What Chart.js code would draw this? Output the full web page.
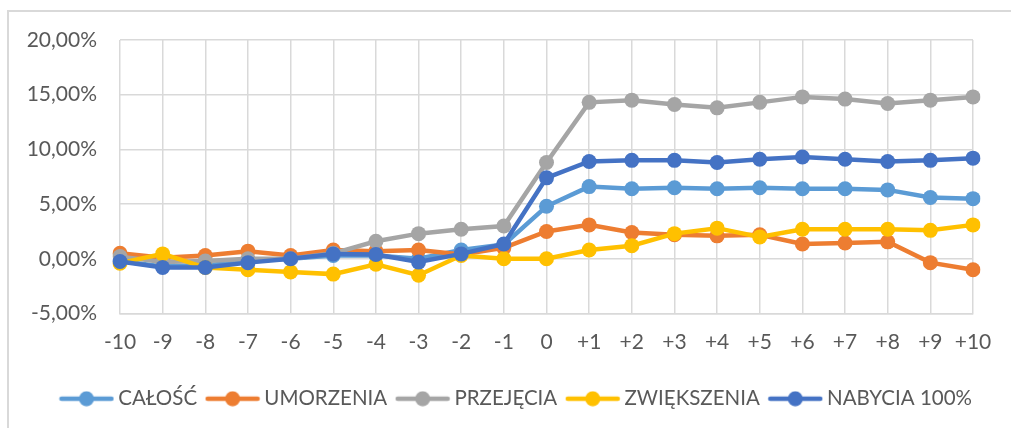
<!DOCTYPE html>
<html>
<head>
<meta charset="utf-8">
<script src="https://cdn.jsdelivr.net/npm/chart.js"></script>
<style>
  body { margin: 0; background: #fff; }
</style>
</head>
<body>
<canvas id="lineChart" width="1011" height="428"></canvas>
<script>
// event window (days)
var categories = ['-10','-9','-8','-7','-6','-5','-4','-3','-2','-1','0','+1','+2','+3','+4','+5','+6','+7','+8','+9','+10'];

// values in %
var calosc      = [-0.2, -0.7, -0.6, -0.2, 0.0, 0.3, 0.3, 0.0, 0.8, 1.3, 4.8, 6.6, 6.4, 6.5, 6.4, 6.5, 6.4, 6.4, 6.3, 5.6, 5.5];
var umorzenia   = [0.5, 0.1, 0.3, 0.7, 0.3, 0.8, 0.7, 0.8, 0.4, 1.0, 2.5, 3.1, 2.4, 2.2, 2.1, 2.2, 1.35, 1.45, 1.55, -0.35, -1.0];
var przejecia   = [0.2, -0.3, -0.2, 0.0, 0.0, 0.5, 1.6, 2.3, 2.7, 3.0, 8.8, 14.3, 14.5, 14.1, 13.8, 14.3, 14.8, 14.6, 14.2, 14.5, 14.8];
var zwiekszenia = [-0.4, 0.45, -0.8, -1.0, -1.2, -1.4, -0.5, -1.5, 0.3, 0.0, 0.0, 0.8, 1.2, 2.3, 2.8, 2.0, 2.7, 2.7, 2.7, 2.6, 3.1];
var nabycia     = [-0.25, -0.8, -0.8, -0.35, 0.0, 0.45, 0.4, -0.3, 0.45, 1.35, 7.4, 8.9, 9.0, 9.0, 8.8, 9.1, 9.3, 9.1, 8.9, 9.0, 9.2];

var yMin = -5, yMax = 20, yStep = 5;

var gridColor = '#d9d9d9';
var textColor = '#595959';
var fontFamily = 'Lato, "Liberation Sans", sans-serif';

// legend marker: line with a dot in the middle
function legendSymbol(color) {
    var c = document.createElement('canvas');
    c.width = 56;
    c.height = 16;
    var g = c.getContext('2d');
    g.strokeStyle = color;
    g.lineWidth = 4.5;
    g.lineCap = 'round';
    g.beginPath();
    g.moveTo(3, 8);
    g.lineTo(53, 8);
    g.stroke();
    g.fillStyle = color;
    g.beginPath();
    g.arc(28, 8, 7.5, 0, Math.PI * 2);
    g.fill();
    return c;
}

function series(label, data, color, order) {
    return {
        label: label,
        data: data,
        borderColor: color,
        backgroundColor: color,
        pointBackgroundColor: color,
        pointBorderColor: color,
        pointBorderWidth: 0,
        pointRadius: 7.5,
        borderWidth: 4.5,
        tension: 0,
        order: order,
        pointStyle: 'circle',
        legendSymbol: legendSymbol(color)
    };
}

// outer chart frame (top and left edge)
var framePlugin = {
    id: 'frame',
    afterLayout: function(chart) {
        // legend sits a bit right of the canvas centre in the original
        chart.legend.left += 28;
        chart.legend.right += 28;
    },
    beforeDraw: function(chart) {
        var ctx = chart.ctx;
        ctx.save();
        ctx.strokeStyle = gridColor;
        ctx.lineWidth = 2;
        ctx.beginPath();
        ctx.moveTo(1011, 11);
        ctx.lineTo(8, 11);
        ctx.lineTo(8, 428);
        ctx.stroke();
        ctx.restore();
    }
};

var ctx = document.getElementById('lineChart').getContext('2d');
var myChart = new Chart(ctx, {
    type: 'line',
    data: {
        labels: categories,
        datasets: [
            series('CAŁOŚĆ', calosc, '#5b9bd5', 5),
            series('UMORZENIA', umorzenia, '#ed7d31', 4),
            series('PRZEJĘCIA', przejecia, '#a5a5a5', 3),
            series('ZWIĘKSZENIA', zwiekszenia, '#ffc000', 2),
            series('NABYCIA 100%', nabycia, '#4472c4', 1)
        ]
    },
    options: {
        responsive: false,
        animation: false,
        layout: {
            padding: { left: 8, right: 38, top: 40, bottom: 9 }
        },
        scales: {
            x: {
                offset: false,
                grid: { color: gridColor, lineWidth: 1.5, drawTicks: false },
                border: { color: gridColor, width: 1.5 },
                ticks: {
                    color: textColor,
                    font: { family: fontFamily, size: 21 },
                    padding: 16,
                    maxRotation: 0,
                    autoSkip: false
                },
                afterFit: function(scale) { scale.height = 61; }
            },
            y: {
                min: yMin,
                max: yMax,
                grid: { color: gridColor, lineWidth: 1.5, drawTicks: false },
                border: { display: false },
                ticks: {
                    stepSize: yStep,
                    color: textColor,
                    font: { family: fontFamily, size: 21 },
                    padding: 23,
                    callback: function(v) { return v.toFixed(2).replace('.', ',') + '%'; }
                },
                afterFit: function(scale) { scale.width = 112; }
            }
        },
        plugins: {
            tooltip: { enabled: false },
            legend: {
                position: 'bottom',
                labels: {
                    usePointStyle: true,
                    pointStyleWidth: 43,
                    padding: 14,
                    color: textColor,
                    font: { family: fontFamily, size: 20.5 },
                    sort: function(a, b) { return a.datasetIndex - b.datasetIndex; },
                    generateLabels: function(chart) {
                        var items = Chart.defaults.plugins.legend.labels.generateLabels(chart);
                        items.forEach(function(it) {
                            it.pointStyle = chart.data.datasets[it.datasetIndex].legendSymbol;
                        });
                        return items;
                    }
                }
            }
        }
    },
    plugins: [framePlugin]
});
</script>
</body>
</html>
